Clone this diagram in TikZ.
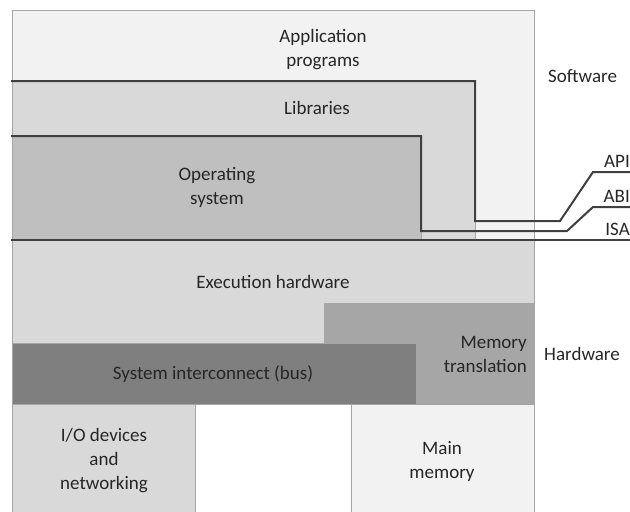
\documentclass[tikz,border=0pt]{standalone}
\usepackage{fontspec}
\setmainfont{Carlito}
\definecolor{txt}{HTML}{262626}
\definecolor{bord}{HTML}{A6A6A6}
\definecolor{lineC}{HTML}{404040}
\definecolor{fA}{HTML}{F2F2F2}
\definecolor{fB}{HTML}{D9D9D9}
\definecolor{fC}{HTML}{BFBFBF}
\definecolor{fD}{HTML}{A6A6A6}
\definecolor{fE}{HTML}{7F7F7F}
\tikzset{
  layer/.style={draw=bord, line width=0.8pt},
  iface/.style={draw=lineC, line width=2pt, line join=miter},
  lbl/.style={font=\fontsize{19}{24}\selectfont, text=txt, align=center, inner sep=0pt},
}
\begin{document}
\begin{tikzpicture}[x=1pt,y=-1pt]
\useasboundingbox (0,0) rectangle (630,512);
% layers
\path[layer, fill=fA] (12,10) rectangle (534,240);
\path[layer, fill=fB] (12,81) rectangle (475,240);
\path[layer, fill=fC] (12,136) rectangle (421,240);
\path[layer, fill=fB] (12,240) rectangle (534,343);
\path[layer, fill=fD] (324,303) rectangle (534,404);
\path[layer, fill=fE] (12,343) rectangle (416,404);
\path[layer, fill=fB] (12,404) rectangle (195,513);
\path[layer, fill=fA] (351,404) rectangle (534,513);
% interface coordinates
\coordinate (apiL) at (11,81);
\coordinate (apiA) at (475,81);
\coordinate (apiB) at (475,221);
\coordinate (apiC) at (560,221);
\coordinate (apiD) at (593,172);
\coordinate (apiR) at (631,172);
\coordinate (abiL) at (11,136);
\coordinate (abiA) at (421,136);
\coordinate (abiB) at (421,231);
\coordinate (abiC) at (567,231);
\coordinate (abiD) at (593,207);
\coordinate (abiR) at (631,207);
\coordinate (isaL) at (11,240);
\coordinate (isaR) at (631,240);
\draw[iface] (apiL) -- (apiA) -- (apiB) -- (apiC) -- (apiD) -- (apiR);
\draw[iface] (abiL) -- (abiA) -- (abiB) -- (abiC) -- (abiD) -- (abiR);
\draw[iface] (isaL) -- (isaR);
% labels
\node[lbl] (app) at (323,50) {Application\\programs};
\node[lbl] (lib) at (317,108) {Libraries};
\node[lbl] (os) at (217,187) {Operating\\system};
\node[lbl] (exe) at (273,282) {Execution hardware};
\node[lbl, align=right, anchor=east] (mt) at (527,354) {Memory\\translation};
\node[lbl] (bus) at (213,374) {System interconnect (bus)};
\node[lbl] (io) at (104,461) {I/O devices\\and\\networking};
\node[lbl] (mm) at (442,461) {Main\\memory};
\node[lbl, anchor=west] (sw) at (548,76) {Software};
\node[lbl, anchor=west] (hw) at (544,354) {Hardware};
\node[lbl, anchor=base east] (api) at (630,167) {API};
\node[lbl, anchor=base east] (abi) at (630,202) {ABI};
\node[lbl, anchor=base east] (isa) at (630,235) {ISA};
\end{tikzpicture}
\end{document}
